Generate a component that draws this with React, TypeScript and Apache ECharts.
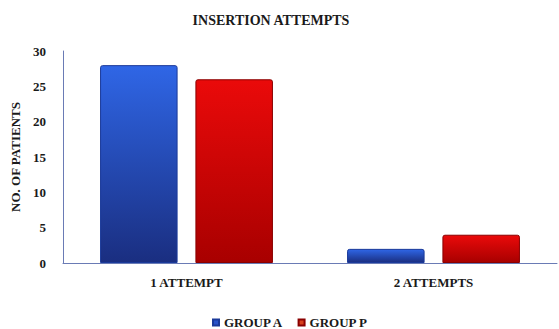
import React, { useEffect, useRef } from "react";
import * as echarts from "echarts";

const categories = ["1 ATTEMPT", "2 ATTEMPTS"];
const groupA = [28, 2];
const groupP = [26, 4];
const seriesNames = ["GROUP A", "GROUP P"];

const FONT = "'Liberation Serif', 'Times New Roman', serif";

export default function App() {
  const ref = useRef<HTMLDivElement>(null);
  useEffect(() => {
    if (!ref.current) return;
    const chart = echarts.init(ref.current, undefined, { renderer: "svg" });
    const blue = new echarts.graphic.LinearGradient(0, 0, 0, 1, [
      { offset: 0, color: "#2f66e6" },
      { offset: 1, color: "#1a2e80" },
    ]);
    const red = new echarts.graphic.LinearGradient(0, 0, 0, 1, [
      { offset: 0, color: "#ea0a0a" },
      { offset: 1, color: "#a80000" },
    ]);
    chart.setOption({
      animation: false,
      title: {
        text: "INSERTION ATTEMPTS",
        left: 266,
        textAlign: "center",
        top: 8,
        textStyle: { fontFamily: FONT, fontWeight: "bold", fontSize: 14, color: "#1a1a1a" },
      },
      legend: {
        top: 311,
        left: 207,
        itemWidth: 6,
        itemHeight: 6,
        itemGap: 14,
        icon: "rect",
        textStyle: { fontFamily: FONT, fontWeight: "bold", fontSize: 13, color: "#1a1a1a" },
        data: [
          { name: seriesNames[0], itemStyle: { color: "#2a52c8" } },
          { name: seriesNames[1], itemStyle: { color: "#d8401c" } },
        ],
      },
      grid: { left: 63, right: 2, top: 51, bottom: 66 },
      xAxis: {
        type: "category",
        data: categories,
        axisLine: { lineStyle: { color: "#6a7bb5", width: 1 } },
        axisTick: { show: false },
        axisLabel: {
          fontFamily: FONT,
          fontWeight: "bold",
          fontSize: 13,
          color: "#1a1a1a",
          margin: 13,
        },
      },
      yAxis: {
        type: "value",
        min: 0,
        max: 30,
        interval: 5,
        name: "NO. OF PATIENTS",
        nameLocation: "middle",
        nameGap: 39,
        nameRotate: 90,
        nameTextStyle: { fontFamily: FONT, fontWeight: "bold", fontSize: 13, color: "#1a1a1a" },
        axisLine: { show: true, lineStyle: { color: "#6a7bb5", width: 1 } },
        axisTick: { show: false },
        splitLine: { show: false },
        axisLabel: {
          fontFamily: FONT,
          fontWeight: "bold",
          fontSize: 13,
          color: "#1a1a1a",
          margin: 17,
        },
      },
      series: [
        {
          name: seriesNames[0],
          type: "bar",
          data: groupA,
          barGap: "23%",
          barCategoryGap: "30%",
          itemStyle: { color: blue, borderColor: "#1b3a9a", borderWidth: 1, borderRadius: [2, 2, 0, 0] },
        },
        {
          name: seriesNames[1],
          type: "bar",
          data: groupP,
          itemStyle: { color: red, borderColor: "#8a0000", borderWidth: 1, borderRadius: [2, 2, 0, 0] },
        },
      ],
    });
    return () => chart.dispose();
  }, []);
  return (
    <div
      ref={ref}
      style={{ position: "absolute", left: 0, top: 0, width: 559, height: 329, background: "#fff" }}
    />
  );
}
